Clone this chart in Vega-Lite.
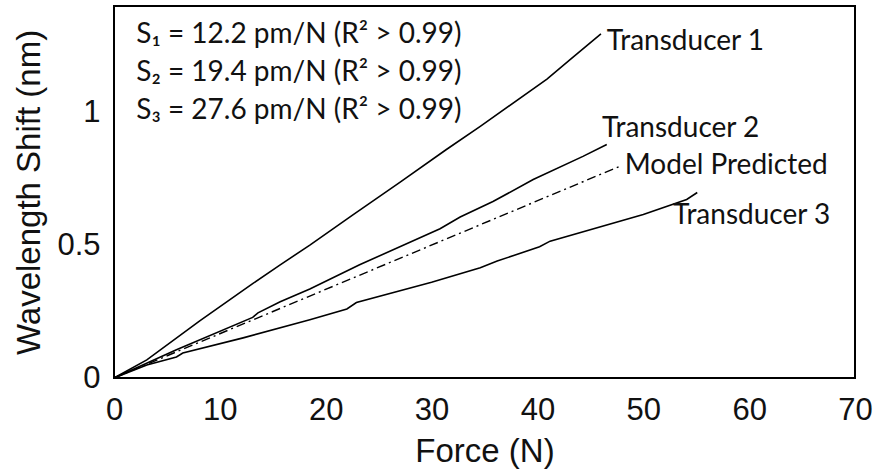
{
  "$schema": "https://vega.github.io/schema/vega-lite/v6.json",
  "width": 741,
  "height": 372,
  "autosize": {"type": "none"},
  "padding": {"left": 114, "top": 6, "right": 22, "bottom": 93},
  "background": "white",
  "config": {
    "view": {"stroke": "black", "strokeWidth": 2},
    "axis": {
      "grid": false,
      "domain": false,
      "ticks": false,
      "labelFont": "Liberation Sans",
      "labelFontSize": 31,
      "labelColor": "#111",
      "titleFont": "Liberation Sans",
      "titleFontSize": 33,
      "titleFontWeight": "normal",
      "titleColor": "#111"
    }
  },
  "datasets": {
    "curves": [
      {"series": "Transducer 1", "force": 0, "shift": 0},
      {"series": "Transducer 1", "force": 3.1, "shift": 0.068},
      {"series": "Transducer 1", "force": 8.1, "shift": 0.215},
      {"series": "Transducer 1", "force": 13.1, "shift": 0.355},
      {"series": "Transducer 1", "force": 15.7, "shift": 0.426},
      {"series": "Transducer 1", "force": 18.5, "shift": 0.5},
      {"series": "Transducer 1", "force": 22.5, "shift": 0.612},
      {"series": "Transducer 1", "force": 27, "shift": 0.736},
      {"series": "Transducer 1", "force": 31.4, "shift": 0.86},
      {"series": "Transducer 1", "force": 34.6, "shift": 0.947},
      {"series": "Transducer 1", "force": 40.9, "shift": 1.125},
      {"series": "Transducer 1", "force": 43, "shift": 1.195},
      {"series": "Transducer 1", "force": 46, "shift": 1.295},
      {"series": "Transducer 2", "force": 0, "shift": 0},
      {"series": "Transducer 2", "force": 5.9, "shift": 0.106},
      {"series": "Transducer 2", "force": 13.1, "shift": 0.228},
      {"series": "Transducer 2", "force": 13.6, "shift": 0.245},
      {"series": "Transducer 2", "force": 15.7, "shift": 0.287},
      {"series": "Transducer 2", "force": 18.5, "shift": 0.335},
      {"series": "Transducer 2", "force": 23.2, "shift": 0.426},
      {"series": "Transducer 2", "force": 30.8, "shift": 0.562},
      {"series": "Transducer 2", "force": 32.7, "shift": 0.606},
      {"series": "Transducer 2", "force": 35.8, "shift": 0.664},
      {"series": "Transducer 2", "force": 39.6, "shift": 0.747},
      {"series": "Transducer 2", "force": 44.3, "shift": 0.834},
      {"series": "Transducer 2", "force": 46.55, "shift": 0.879},
      {"series": "Transducer 3", "force": 0, "shift": 0},
      {"series": "Transducer 3", "force": 3.1, "shift": 0.049},
      {"series": "Transducer 3", "force": 5.9, "shift": 0.079},
      {"series": "Transducer 3", "force": 6.5, "shift": 0.094},
      {"series": "Transducer 3", "force": 12.2, "shift": 0.151},
      {"series": "Transducer 3", "force": 18.5, "shift": 0.219},
      {"series": "Transducer 3", "force": 22, "shift": 0.26},
      {"series": "Transducer 3", "force": 22.9, "shift": 0.284},
      {"series": "Transducer 3", "force": 30, "shift": 0.36},
      {"series": "Transducer 3", "force": 34.6, "shift": 0.415},
      {"series": "Transducer 3", "force": 36.2, "shift": 0.44},
      {"series": "Transducer 3", "force": 40.2, "shift": 0.494},
      {"series": "Transducer 3", "force": 41.2, "shift": 0.515},
      {"series": "Transducer 3", "force": 50, "shift": 0.615},
      {"series": "Transducer 3", "force": 54.1, "shift": 0.672},
      {"series": "Transducer 3", "force": 55.1, "shift": 0.698},
      {"series": "Model Predicted", "force": 0, "shift": 0},
      {"series": "Model Predicted", "force": 47.8, "shift": 0.797}
    ],
    "labels": [
      {"label": "Transducer 1", "force": 46.55, "shift": 1.264},
      {"label": "Transducer 2", "force": 46.1, "shift": 0.936},
      {"label": "Model Predicted", "force": 48.25, "shift": 0.797},
      {"label": "Transducer 3", "force": 52.8, "shift": 0.608}
    ],
    "notes": [
      {"note": "S₁ = 12.2 pm/N (R² > 0.99)", "force": 2.1, "shift": 1.29},
      {"note": "S₂ = 19.4 pm/N (R² > 0.99)", "force": 2.1, "shift": 1.146},
      {"note": "S₃ = 27.6 pm/N (R² > 0.99)", "force": 2.1, "shift": 1.006}
    ],
    "xMajor": [
      {"force": 10}, {"force": 20}, {"force": 30}, {"force": 40}, {"force": 50}, {"force": 60}
    ],
    "xMinor": [
      {"force": 2}, {"force": 4}, {"force": 6}, {"force": 8},
      {"force": 12}, {"force": 14}, {"force": 16}, {"force": 18},
      {"force": 22}, {"force": 24}, {"force": 26}, {"force": 28},
      {"force": 32}, {"force": 34}, {"force": 36}, {"force": 38},
      {"force": 42}, {"force": 44}, {"force": 46}, {"force": 48},
      {"force": 52}, {"force": 54}, {"force": 56}, {"force": 58},
      {"force": 62}, {"force": 64}, {"force": 66}, {"force": 68}
    ],
    "yMajor": [
      {"shift": 0.5}, {"shift": 1}
    ],
    "yMinor": [
      {"shift": 0.1}, {"shift": 0.2}, {"shift": 0.3}, {"shift": 0.4},
      {"shift": 0.6}, {"shift": 0.7}, {"shift": 0.8}, {"shift": 0.9},
      {"shift": 1.1}, {"shift": 1.2}, {"shift": 1.3}
    ]
  },
  "encoding": {
    "x": {
      "field": "force", "type": "quantitative",
      "scale": {"domain": [0, 70], "nice": false},
      "axis": {
        "orient": "bottom", "title": "Force (N)",
        "values": [0, 10, 20, 30, 40, 50, 60, 70],
        "labelPadding": 17, "titlePadding": 10, "labelFlush": false
      }
    },
    "y": {
      "field": "shift", "type": "quantitative",
      "scale": {"domain": [0, 1.4], "nice": false},
      "axis": {
        "orient": "left", "title": "Wavelength Shift (nm)",
        "values": [0, 0.5, 1], "format": "~g",
        "labelPadding": 14, "titlePadding": 10, "labelFlush": false
      }
    }
  },
  "layer": [
    {
      "data": {"name": "curves"},
      "transform": [{"filter": "datum.series !== 'Model Predicted'"}],
      "mark": {"type": "line", "color": "black", "strokeWidth": 1.6},
      "encoding": {"detail": {"field": "series"}}
    },
    {
      "data": {"name": "curves"},
      "transform": [{"filter": "datum.series === 'Model Predicted'"}],
      "mark": {"type": "line", "color": "black", "strokeWidth": 1.4, "strokeDash": [9, 4, 2, 4]}
    },
    {
      "data": {"name": "labels"},
      "mark": {"type": "text", "align": "left", "baseline": "middle", "font": "Lato", "fontSize": 28, "color": "#111"},
      "encoding": {"text": {"field": "label"}}
    },
    {
      "data": {"name": "notes"},
      "mark": {"type": "text", "align": "left", "baseline": "middle", "font": "Lato", "fontSize": 28, "color": "#111"},
      "encoding": {"text": {"field": "note"}}
    },
    {
      "data": {"name": "xMajor"},
      "mark": {"type": "text", "text": "┃", "font": "DejaVu Sans Mono", "fontSize": 13, "align": "center", "baseline": "bottom", "color": "black"},
      "encoding": {"y": {"datum": 0}}
    },
    {
      "data": {"name": "xMajor"},
      "mark": {"type": "text", "text": "┃", "font": "DejaVu Sans Mono", "fontSize": 13, "align": "center", "baseline": "top", "dy": 2, "color": "black"},
      "encoding": {"y": {"datum": 1.4}}
    },
    {
      "data": {"name": "xMinor"},
      "mark": {"type": "text", "text": "┃", "font": "DejaVu Sans Mono", "fontSize": 7, "align": "center", "baseline": "bottom", "color": "black"},
      "encoding": {"y": {"datum": 0}}
    },
    {
      "data": {"name": "xMinor"},
      "mark": {"type": "text", "text": "┃", "font": "DejaVu Sans Mono", "fontSize": 7, "align": "center", "baseline": "top", "dy": 1, "color": "black"},
      "encoding": {"y": {"datum": 1.4}}
    },
    {
      "data": {"name": "yMajor"},
      "mark": {"type": "text", "text": "─", "font": "DejaVu Sans Mono", "fontSize": 22, "align": "left", "baseline": "middle", "color": "black"},
      "encoding": {"x": {"datum": 0}}
    },
    {
      "data": {"name": "yMajor"},
      "mark": {"type": "text", "text": "─", "font": "DejaVu Sans Mono", "fontSize": 20, "align": "right", "baseline": "middle", "color": "black"},
      "encoding": {"x": {"datum": 70}}
    },
    {
      "data": {"name": "yMinor"},
      "mark": {"type": "text", "text": "━", "font": "DejaVu Sans Mono", "fontSize": 10, "align": "left", "baseline": "middle", "color": "black"},
      "encoding": {"x": {"datum": 0}}
    },
    {
      "data": {"name": "yMinor"},
      "mark": {"type": "text", "text": "━", "font": "DejaVu Sans Mono", "fontSize": 9, "align": "right", "baseline": "middle", "color": "black"},
      "encoding": {"x": {"datum": 70}}
    }
  ]
}
